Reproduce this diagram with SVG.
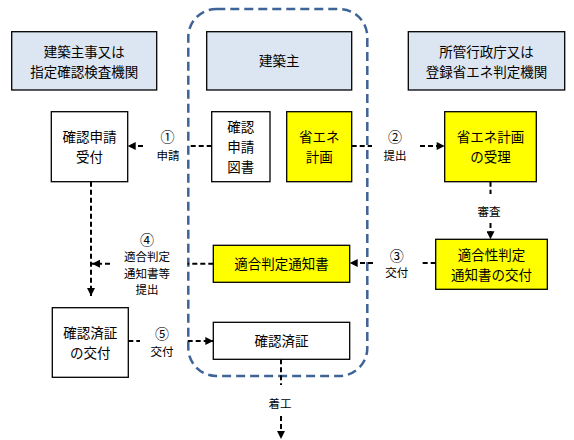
<svg xmlns="http://www.w3.org/2000/svg" width="574" height="440" viewBox="0 0 574 440">
<defs>
<marker id="ah" viewBox="0 0 10 10" refX="10" refY="5" markerWidth="10" markerHeight="8" markerUnits="userSpaceOnUse" orient="auto">
<path d="M0,0 L10,5 L0,10 Z" fill="#000"/>
</marker>
<style>
text{font-family:"Noto Sans CJK JP","Noto Sans",sans-serif;fill:#000;text-anchor:middle;font-weight:400}
.t{font-size:13.5px}
.l{font-size:11.5px}
.n{font-size:14px}
.hdr{fill:#DCE6F2;stroke:#000;stroke-width:1.3}
.box{fill:#fff;stroke:#000;stroke-width:1.3}
.yel{fill:#FFFF00;stroke:#000;stroke-width:1.3}
.c{fill:none;stroke:#000;stroke-width:2;stroke-dasharray:5 3}
.a{marker-end:url(#ah)}
</style>
</defs>
<rect width="574" height="440" fill="#fff"/>
<g id="owner-area">
<rect x="188.3" y="9" width="179" height="367" rx="28" ry="28" fill="none" stroke="#3E6396" stroke-width="2.5" stroke-dasharray="9 5"/>
</g>
<g id="hdr-left">
<rect class="hdr" x="11.7" y="31.7" width="145" height="58.3"/>
<text class="t" x="84.2" y="57">建築主事又は</text>
<text class="t" x="84.2" y="77">指定確認検査機関</text>
</g>
<g id="hdr-mid">
<rect class="hdr" x="206.7" y="31.7" width="145" height="58.3"/>
<text class="t" x="279.2" y="66">建築主</text>
</g>
<g id="hdr-right">
<rect class="hdr" x="408.3" y="31.7" width="156.4" height="58.3"/>
<text class="t" x="486.5" y="57">所管行政庁又は</text>
<text class="t" x="486.5" y="77">登録省エネ判定機関</text>
</g>
<g id="n-uketsuke">
<rect class="box" x="51.3" y="111.7" width="76.4" height="70"/>
<text class="t" x="89.5" y="142">確認申請</text>
<text class="t" x="89.5" y="162">受付</text>
</g>
<g id="n-tosho">
<rect class="box" x="211.7" y="111.7" width="58.3" height="70"/>
<text class="t" x="240.8" y="132">確認</text>
<text class="t" x="240.8" y="152">申請</text>
<text class="t" x="240.8" y="172">図書</text>
</g>
<g id="n-keikaku">
<rect class="yel" x="286.7" y="111.7" width="65" height="70"/>
<text class="t" x="319.2" y="142">省エネ</text>
<text class="t" x="319.2" y="162">計画</text>
</g>
<g id="n-juri">
<rect class="yel" x="444.7" y="111.7" width="91.6" height="70"/>
<text class="t" x="490.5" y="142">省エネ計画</text>
<text class="t" x="490.5" y="162">の受理</text>
</g>
<g id="n-tekigosei">
<rect class="yel" x="435.7" y="239.3" width="111.6" height="50"/>
<text class="t" x="491.5" y="260">適合性判定</text>
<text class="t" x="491.5" y="280">通知書の交付</text>
</g>
<g id="n-tsuchisho">
<rect class="yel" x="213.3" y="245.3" width="136.4" height="37"/>
<text class="t" x="281.5" y="268.5">適合判定通知書</text>
</g>
<g id="n-kofu">
<rect class="box" x="52.3" y="307.7" width="76" height="69.6"/>
<text class="t" x="90.3" y="338">確認済証</text>
<text class="t" x="90.3" y="358">の交付</text>
</g>
<g id="n-sumisho">
<rect class="box" x="213.3" y="322.3" width="136.4" height="37"/>
<text class="t" x="281.5" y="345.5">確認済証</text>
</g>
<g id="connectors">
<path class="c" d="M211.7,146 H190"/>
<path class="c a" d="M143,146 H127.7"/>
<text class="n" x="167.5" y="142">①</text>
<text class="l" x="168" y="159.5">申請</text>
<path class="c" d="M351.7,146 H372"/>
<path class="c a" d="M420,146 H444.7"/>
<text class="n" x="395" y="142">②</text>
<text class="l" x="395" y="159.5">提出</text>
<path class="c" d="M490.5,181.7 V194"/>
<path class="c a" d="M490.5,223 V239.3"/>
<text class="l" x="489" y="215.5">審査</text>
<path class="c" d="M435.7,263 H420"/>
<path class="c a" d="M373,263 H349.7"/>
<text class="n" x="396.7" y="261">③</text>
<text class="l" x="396.7" y="276.5">交付</text>
<path class="c" d="M213.3,263.7 H187.7"/>
<path class="c a" d="M110,263.7 H92"/>
<text class="n" x="147" y="245">④</text>
<text class="l" x="147" y="261">適合判定</text>
<text class="l" x="147" y="277.5">通知書等</text>
<text class="l" x="147" y="294">提出</text>
<path class="c a" d="M91,181.7 V296"/>
<path class="c" d="M128.3,341 H140"/>
<path class="c a" d="M187.7,341 H213.3"/>
<text class="n" x="162" y="339">⑤</text>
<text class="l" x="162" y="356">交付</text>
<path class="c" d="M281,359.3 V385"/>
<path class="c a" d="M281,416 V439"/>
<text class="l" x="280" y="407.5">着工</text>
</g>
</svg>
